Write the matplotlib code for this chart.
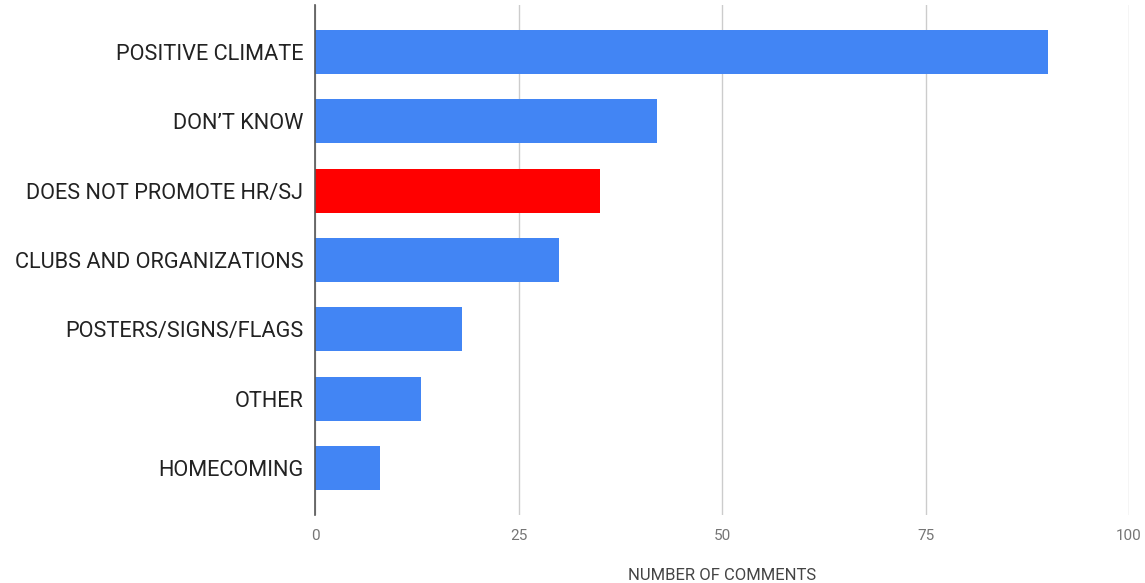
import matplotlib
matplotlib.use("Agg")
import matplotlib.pyplot as plt

categories = ["POSITIVE CLIMATE", "DON\u2019T KNOW", "DOES NOT PROMOTE HR/SJ",
              "CLUBS AND ORGANIZATIONS", "POSTERS/SIGNS/FLAGS", "OTHER", "HOMECOMING"]
values = [90, 42, 35, 30, 18, 13, 8]
colors = ["#4285f4", "#4285f4", "#ff0000", "#4285f4", "#4285f4", "#4285f4", "#4285f4"]
xticks = [0, 25, 50, 75, 100]

plt.rcParams['font.family'] = ['Roboto', 'DejaVu Sans']
fig = plt.figure(figsize=(11.45, 5.83), dpi=100)
ax = fig.add_axes([315/1145, 68/583, (1129-315)/1145, 510/583])

y = list(range(len(categories)))
ax.barh(y, values, height=0.635, color=colors, zorder=3)
ax.set_ylim(len(categories) - 1 + 0.68, -0.68)
ax.set_xlim(0, 100)
ax.set_yticks(y)
ax.set_yticklabels(categories, fontsize=15.7, color="#222222")
ax.set_xticks(xticks)
ax.set_xticklabels([str(t) for t in xticks], fontsize=11, color="#757575")
ax.tick_params(axis='y', length=0, pad=8.5)
ax.tick_params(axis='x', length=0, pad=10)
ax.grid(axis='x', color="#cccccc", linewidth=1, zorder=0)
for s in ["top", "right", "bottom"]:
    ax.spines[s].set_visible(False)
ax.spines["left"].set_color("#555555")
ax.spines["left"].set_linewidth(1.2)
ax.spines["left"].set_zorder(4)
ax.set_xlabel("NUMBER OF COMMENTS", fontsize=12, color="#444444", labelpad=18)
fig.savefig("out.png", dpi=100)
